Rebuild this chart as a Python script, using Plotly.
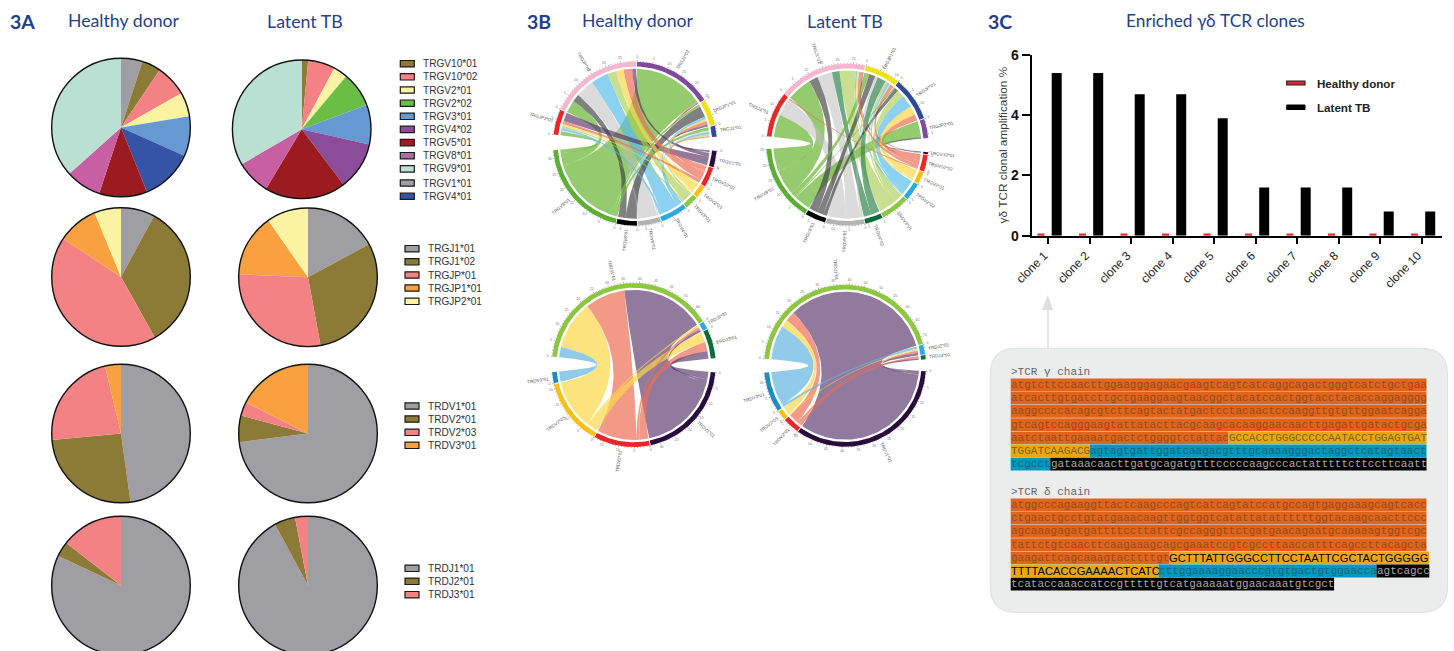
import math
import plotly.graph_objects as go

W, H = 1454, 657
NAVY = "#1F3F8A"
SANS = "Liberation Sans"
MONO = "Liberation Mono"
TITLE = "Lato"

# ---------- 3A pie data ----------
GRAY, OLIVE, PINK, YEL, GRN, BLU = "#9F9EA2", "#8B7B36", "#F48183", "#F9F3A2", "#6BBE45", "#6699D1"
PUR, DRED, MAG, MINT, DBLU, ORG = "#8B4C9A", "#9C1B20", "#C95FA3", "#B9E0D3", "#3554A5", "#F9A040"

V_HD_L = ["TRGV1*01", "TRGV10*01", "TRGV10*02", "TRGV2*01", "TRGV3*01", "TRGV4*01", "TRGV5*01", "TRGV8*01", "TRGV9*01"]
V_HD_V = [5.0, 4.4, 7.4, 5.6, 9.3, 12.2, 11.2, 8.3, 36.6]
V_HD_C = [GRAY, OLIVE, PINK, YEL, BLU, DBLU, DRED, MAG, MINT]
V_TB_L = ["TRGV10*01", "TRGV10*02", "TRGV2*01", "TRGV2*02", "TRGV3*01", "TRGV4*02", "TRGV5*01", "TRGV8*01", "TRGV9*01"]
V_TB_V = [1.5, 6.3, 3.3, 8.2, 9.2, 11.2, 18.9, 8.0, 33.4]
V_TB_C = [OLIVE, PINK, YEL, GRN, BLU, PUR, DRED, MAG, MINT]
J_L = ["TRGJ1*01", "TRGJ1*02", "TRGJP*01", "TRGJP1*01", "TRGJP2*01"]
J_C = [GRAY, OLIVE, PINK, ORG, YEL]
J_HD_V = [7.9, 34.0, 42.4, 9.5, 6.2]
J_TB_V = [17.1, 30.0, 28.6, 14.6, 9.7]
DV_L = ["TRDV1*01", "TRDV2*01", "TRDV2*03", "TRDV3*01"]
DV_C = [GRAY, OLIVE, PINK, ORG]
DV_HD_V = [47.8, 25.7, 22.8, 3.7]
DV_TB_V = [73.0, 6.2, 3.2, 17.6]
DJ_L = ["TRDJ1*01", "TRDJ2*01", "TRDJ3*01"]
DJ_C = [GRAY, OLIVE, PINK]
DJ_HD_V = [82.0, 3.5, 14.5]
DJ_TB_V = [92.1, 4.9, 3.0]

LEG1_L = ["TRGV10*01", "TRGV10*02", "TRGV2*01", "TRGV2*02", "TRGV3*01", "TRGV4*02", "TRGV5*01", "TRGV8*01", "TRGV9*01", "TRGV1*01", "TRGV4*01"]
LEG1_C = [OLIVE, PINK, YEL, GRN, BLU, PUR, DRED, MAG, MINT, GRAY, DBLU]

# ---------- 3B chord data (rows = V genes, columns = J genes) ----------
C_GRN = ("#5BB033", "rgba(112,186,62,.75)")
C_BLK = ("#000000", "rgba(60,60,60,.65)")
C_GRY = ("#B3B3B3", "rgba(190,190,190,.55)")
C_CYN = ("#29ABE2", "rgba(90,190,235,.7)")
C_CY2 = ("#1E8BC3", "rgba(100,180,225,.7)")
C_LIM = ("#8DC63F", "rgba(170,205,85,.65)")
C_ORG = ("#FDC010", "rgba(252,215,70,.7)")
C_RED = ("#E9262A", "rgba(238,110,85,.7)")
C_DPR = ("#2A0C3C", "rgba(80,45,100,.63)")
C_DGN = ("#0E6B3A", "rgba(60,140,90,.75)")
R_PNK, R_PUR, R_YEL, R_DBL, R_RED = "#F7B6CF", "#7D4A9E", "#EEE20A", "#2F4A9C", "#E9262A"

CH1_J = ["TRGJP2*01", "TRGJP*01", "TRGJ1*02", "TRGJP1*01", "TRGJ1*01"]
CH1_JC = [R_RED, R_PNK, R_PUR, R_YEL, R_DBL]
CH1_V = ["TRGV1*01", "TRGV10*02", "TRGV2*01", "TRGV3*01", "TRGV4*01", "TRGV5*01", "TRGV8*01", "TRGV9*01"]
CH1_VC = [C_DPR, C_RED, C_ORG, C_LIM, C_CYN, C_GRY, C_BLK, C_GRN]
CH1_M = [[7, 3, .5, 1.5, 0], [2.5, 7, 1, 3, 1], [1.5, 6, 0, 1, .5], [1.5, 7, 0, .5, 1],
         [2, 14, 0, 2, 2], [1, 15, 0, 0, 1], [0, 6, 0, 9, 0], [3, 10, 56.5, 2, 2.6]]

CH2_J = ["TRGJ1*01", "TRGJ1*02", "TRGJP1*01", "TRGJP*01", "TRGJP2*01"]
CH2_JC = [R_RED, R_PNK, R_YEL, R_DBL, R_PUR]
CH2_V = ["TRGV10*01", "TRGV10*02", "TRGV2*01", "TRGV2*02", "TRGV3*01", "TRGV4*02", "TRGV5*01", "TRGV8*01", "TRGV9*01"]
CH2_VC = [C_DPR, C_RED, C_ORG, C_CYN, C_LIM, C_DGN, C_GRY, C_BLK, C_GRN]
CH2_M = [[0, .5, 0, 0, 1], [1, 3, 3, 5, 0], [0, 1.5, .5, 7, 0], [0, 1, 2, 10, 0], [0, 13, 2, 6, 0],
         [0, 6, 7, 0, 0], [14, 12, 2, 0, 0], [0, 7, 5, 3, 0], [18, 20, 4, 1, 13]]

CH3_J = ["TRDJ1*01", "TRDJ2*01", "TRDJ3*01"]
CH3_JC = ["#8DC63F", "#29ABE2", "#0E6B3A"]
CH3_V = ["TRDV1*01", "TRDV2*01", "TRDV2*03", "TRDV3*01"]
CH3_VC = [C_DPR, C_RED, C_ORG, C_CY2]
CH3_M = [[65, 2, 6], [31, 2, 7], [38, 1.5, 8], [8, 0, 0]]
CH4_M = [[119, 2, 1], [8, 2, 2], [6, 1, 0], [27, 2, 0]]

# ---------- 3C data ----------
CLONES = ["clone 1", "clone 2", "clone 3", "clone 4", "clone 5", "clone 6", "clone 7", "clone 8", "clone 9", "clone 10"]
HD_AMP = [0, 0, 0, 0, 0, 0, 0, 0, 0, 0]
TB_AMP = [5.4, 5.4, 4.7, 4.7, 3.9, 1.6, 1.6, 1.6, 0.8, 0.8]

# each run: (text, background key)
GAMMA = [
    [("atgtcttccaacttggaagggagaacgaagtcagtcatcaggcagactgggtcatctgctgaa", "o")],
    [("atcacttgtgatcttgctgaaggaagtaacggctacatccactggtacctacaccaggagggg", "o")],
    [("aaggccccacagcgtcttcagtactatgactcctacaactccaaggttgtgttggaatcagga", "o")],
    [("gtcagtccagggaagtattatacttacgcaagcacaaggaacaacttgagattgatactgcga", "o")],
    [("aatctaattgaaaatgactctggggtctattac", "o"), ("GCCACCTGGGCCCCCAATACCTGGAGTGAT", "y")],
    [("TGGATCAAGACG", "y"), ("agtagtgattggatcaagacgtttgcaaaagggactaggctcatagtaact", "c")],
    [("tcgcct", "c"), ("gataaacaacttgatgcagatgtttcccccaagcccactatttttcttccttcaatt", "k")],
]
DELTA = [
    [("atggcccagaaggttactcaagcccagtcatcagtatccatgccagtgaggaaagcagtcacc", "o")],
    [("ctgaactgcctgtatgaaacaagttggtggtcatattatattttttggtacaagcaacttccc", "o")],
    [("agcaaagagatgattttccttattcgccagggttctgatgaacagaatgcaaaaagtggtcgc", "o")],
    [("tattctgtcaacttcaagaaagcagcgaaatccgtcgccttaaccatttcagccttacagcta", "o")],
    [("gaagattcagcaaagtacttttgt", "o"), ("GCTTTATTGGGCCTTCCTAATTCGCTACTGGGGG", "Y")],
    [("TTTTACACCGAAAACTCATC", "Y"), ("cttggaaaaggaacccgtgtgactgtggaacca", "c"), ("agtcagcc", "k")],
    [("tcataccaaaccatccgtttttgtcatgaaaaatggaacaaatgtcgct", "k")],
]

fig = go.Figure()
shapes, annos = [], []


def text(x, y, s, size, color, family=SANS, anchor="left", angle=0, yanchor="middle"):
    annos.append(dict(x=x, y=y, xref="x", yref="y", text=s, showarrow=False, xanchor=anchor, yanchor=yanchor,
                      textangle=angle, borderpad=0, borderwidth=0,
                      font=dict(size=size, color=color, family=family)))


def rect(x0, y0, x1, y1, fill, line="rgba(0,0,0,0)", lw=0):
    shapes.append(dict(type="rect", xref="x", yref="y", x0=x0, y0=y0, x1=x1, y1=y1, fillcolor=fill,
                       line=dict(color=line, width=lw), layer="below"))


# ---------- pies ----------
def pie(cx, cy, r, labels, values, colors):
    dom = dict(x=[(cx - r) / W, (cx + r) / W], y=[1 - (cy + r) / H, 1 - (cy - r) / H])
    fig.add_trace(go.Pie(labels=labels, values=values, sort=False, direction="clockwise", rotation=0,
                         domain=dom, textinfo="none", hoverinfo="skip", showlegend=False,
                         marker=dict(colors=colors, line=dict(width=0))))
    fig.add_trace(go.Pie(labels=["outline"], values=[1], sort=False, domain=dom, textinfo="none",
                         hoverinfo="skip", showlegend=False,
                         marker=dict(colors=["rgba(0,0,0,0)"], line=dict(color="#111", width=1.4))))


PIE_R = 69.3
pie(121, 127.5, PIE_R, V_HD_L, V_HD_V, V_HD_C)
pie(301.7, 129.3, PIE_R, V_TB_L, V_TB_V, V_TB_C)
pie(121, 277, PIE_R, J_L, J_HD_V, J_C)
pie(308, 277.3, PIE_R, J_L, J_TB_V, J_C)
pie(121, 433.5, PIE_R, DV_L, DV_HD_V, DV_C)
pie(308, 433.5, PIE_R, DV_L, DV_TB_V, DV_C)
pie(121, 585.5, PIE_R, DJ_L, DJ_HD_V, DJ_C)
pie(308, 585.5, PIE_R, DJ_L, DJ_TB_V, DJ_C)


def legend(x, ys, labels, colors):
    for y, l, c in zip(ys, labels, colors):
        rect(x, y - 3.2, x + 14, y + 3.2, c, "#1a1a1a", 1.2)
        text(x + 23, y, l, 10.1, "#333333")


legend(400.3, [63.7, 76.8, 90, 103.2, 116.3, 129.4, 142.6, 155.7, 168.9], LEG1_L[:9], LEG1_C[:9])
legend(400.3, [183, 196.2], LEG1_L[9:], LEG1_C[9:])
legend(405, [248.7, 261.8, 275, 288, 301.3], J_L, J_C)
legend(405, [406, 419, 432.3, 445.3], DV_L, DV_C)
legend(405, [568.3, 581.3, 594.7], DJ_L, DJ_C)


# ---------- chords ----------
def pol(cx, cy, r, deg):
    a = math.radians(deg)
    return cx + r * math.sin(a), cy - r * math.cos(a)


def arc(cx, cy, r, d0, d1):
    n = max(2, int(abs(d1 - d0) / 1.5) + 2)
    pts = [pol(cx, cy, r, d0 + (d1 - d0) * i / (n - 1)) for i in range(n)]
    return pts


def bez(p0, p1, c):
    out = []
    for i in range(1, 30):
        t = i / 30
        out.append(((1 - t) ** 2 * p0[0] + 2 * t * (1 - t) * c[0] + t * t * p1[0],
                    (1 - t) ** 2 * p0[1] + 2 * t * (1 - t) * c[1] + t * t * p1[1]))
    return out


def poly(pts, fill):
    xs = [p[0] for p in pts] + [pts[0][0]]
    ys = [p[1] for p in pts] + [pts[0][1]]
    fig.add_trace(go.Scatter(x=xs, y=ys, mode="lines", fill="toself", fillcolor=fill, line=dict(width=0),
                             hoverinfo="skip", showlegend=False))


def chord(cx, cy, R, jn, jc, vn, vc, M, start, gap1, gap2, small=0.6):
    rr = R - 4.7
    rib = R - 7
    jt = [sum(row[j] for row in M) for j in range(len(jn))]
    vt = [sum(row) for row in M]
    total = sum(jt) + sum(vt)
    k = (360 - gap1 - gap2 - small * (len(jn) + len(vn) - 2)) / total
    jpos, vpos = [], []
    a = start
    for t in jt:
        jpos.append((a, a + t * k))
        a += t * k + small
    a += gap1 - small
    for t in vt:
        vpos.append((a, a + t * k))
        a += t * k + small
    # ribbons: inside a sector the partners run in reverse order going clockwise
    jcur = [p[0] for p in jpos]
    spans = {}
    for j in range(len(jn)):
        for v in reversed(range(len(vn))):
            w = M[v][j] * k
            if w > 0:
                spans[(v, j)] = [(jcur[j], jcur[j] + w)]
                jcur[j] += w
    vcur = [p[0] for p in vpos]
    for v in range(len(vn)):
        for j in reversed(range(len(jn))):
            w = M[v][j] * k
            if w > 0:
                spans[(v, j)].append((vcur[v], vcur[v] + w))
                vcur[v] += w
    # big ribbons first so that thin ones stay visible
    for (v, j), sp in sorted(spans.items(), key=lambda kv: -(kv[1][0][1] - kv[1][0][0])):
        (a0, a1), (b0, b1) = sp
        c = (cx, cy)
        A = arc(cx, cy, rib, a0, a1)
        B = arc(cx, cy, rib, b0, b1)
        poly(A + bez(A[-1], B[0], c) + B + bez(B[-1], A[0], c), vc[v][1])
    # rings, ticks, labels
    sectors = [(p, n, col) for p, n, col in zip(jpos, jn, jc)] + [(p, n, col[0]) for p, n, col in zip(vpos, vn, vc)]
    for (d0, d1), name, col in sectors:
        poly(arc(cx, cy, R, d0, d1) + arc(cx, cy, rr, d1, d0), col)
        tx, ty, lx, ly, lt = [], [], [], [], []
        i = 0
        d = d0
        while d <= d1 + 1e-6:
            major = i % 5 == 0
            p0, p1 = pol(cx, cy, R, d), pol(cx, cy, R + (1.6 if major else 0.9), d)
            tx += [p0[0], p1[0], None]
            ty += [p0[1], p1[1], None]
            if major and d1 - d0 > 4:
                q = pol(cx, cy, R + 4.5, d)
                lx.append(q[0]); ly.append(q[1]); lt.append(str(i))
            i += 1
            d += 2.2
        fig.add_trace(go.Scatter(x=tx, y=ty, mode="lines", line=dict(color="#666", width=0.5),
                                 hoverinfo="skip", showlegend=False))
        fig.add_trace(go.Scatter(x=lx, y=ly, mode="text", text=lt, textposition="middle center",
                                 textfont=dict(size=3.5, color="#777", family=SANS),
                                 hoverinfo="skip", showlegend=False))
        mid = (d0 + d1) / 2 % 360
        q = pol(cx, cy, R + 15, mid)
        ang = mid - 90 if mid < 180 else mid - 270
        text(q[0], q[1], name, 4.6, "#555", anchor="center", angle=ang)


chord(635, 143.7, 82, CH1_J, CH1_JC, CH1_V, CH1_VC, CH1_M, 276.5, 10, 11)
chord(847.4, 144.7, 81, CH2_J, CH2_JC, CH2_V, CH2_VC, CH2_M, 276, 10, 9)
chord(633.7, 365, 82, CH3_J, CH3_JC, CH3_V, CH3_VC, CH3_M, 276, 10, 11)
chord(845, 365.7, 81, CH3_J, CH3_JC, CH3_V, CH3_VC, CH4_M, 275, 8.5, 10)

# ---------- 3C bars ----------
XL, XR, YT, YB = 1031.7, 1442, 55, 235.7
PITCH = 41.5
fig.add_trace(go.Bar(x=CLONES, y=TB_AMP, xaxis="x2", yaxis="y2", name="Latent TB", width=10 / PITCH,
                     offset=3.4 / PITCH, marker=dict(color="#000000", line=dict(width=0)),
                     hoverinfo="skip", showlegend=False))
fig.add_trace(go.Bar(x=CLONES, y=HD_AMP, xaxis="x2", yaxis="y2", name="Healthy donor", width=7 / PITCH,
                     offset=-10.8 / PITCH, cliponaxis=False,
                     marker=dict(color="#EE2A2E", line=dict(color="#EE2A2E", width=4.5)),
                     hoverinfo="skip", showlegend=False))

rect(1286.7, 81, 1305, 85, "#E0262A", "#222", 1.1)
rect(1286.7, 105, 1305, 109.5, "#000", "#000", 1)
text(1316.7, 83.7, "<b>Healthy donor</b>", 11.6, "#222")
text(1316.7, 107.7, "<b>Latent TB</b>", 11.6, "#222")
text(1002, 145.5, "γδ TCR clonal amplification %", 11.8, "#3a3a3a", anchor="center", angle=-90)

# ---------- arrow ----------
shapes.append(dict(type="line", xref="x", yref="y", x0=1048, y0=309, x1=1048, y1=348,
                   line=dict(color="#D5D9D9", width=1.2), layer="below"))
shapes.append(dict(type="path", xref="x", yref="y", path="M 1042.2 310 L 1047.7 295 L 1053.2 310 Z",
                   fillcolor="#DDE0E0", line=dict(width=0), layer="below"))

# ---------- sequence box ----------
BX0, BY0, BX1, BY1, RAD = 990.3, 348.3, 1447.5, 612.5, 26
shapes.append(dict(type="path", xref="x", yref="y", layer="below", fillcolor="#EBEDEC",
                   line=dict(color="#DFE1E1", width=1),
                   path=f"M {BX0 + RAD} {BY0} L {BX1 - RAD} {BY0} Q {BX1} {BY0} {BX1} {BY0 + RAD} "
                        f"L {BX1} {BY1 - RAD} Q {BX1} {BY1} {BX1 - RAD} {BY1} L {BX0 + RAD} {BY1} "
                        f"Q {BX0} {BY1} {BX0} {BY1 - RAD} L {BX0} {BY0 + RAD} Q {BX0} {BY0} {BX0 + RAD} {BY0} Z"))

CW = 6.6
BG = {"o": "#E0651C", "y": "#E8A80C", "Y": "#E8A80C", "c": "#0099BE", "k": "#000000"}
FG = {"o": "#9A4A14", "y": "#7E6208", "Y": "#000000", "c": "#14667F", "k": "#A8A8A8"}


def seq(rows, y0):
    for r, row in enumerate(rows):
        x = 1010.7
        y = y0 + r * 13.2
        for s, key in row:
            wid = len(s) * (7.65 if key == "Y" else CW)
            if key == "Y" and s.startswith("TTTT"):
                wid = len(s) * 7.4
            rect(x, y - 6.4, x + wid, y + 6.4, BG[key])
            if key == "Y":
                text(x + .3, y, s, 11.2, FG[key], SANS)
            else:
                text(x + .3, y, s, 11, FG[key], MONO)
            x += wid


text(1011, 371.7, "&gt;TCR γ chain", 11, "#666", MONO)
seq(GAMMA, 385)
text(1011, 491.7, "&gt;TCR δ chain", 11, "#666", MONO)
seq(DELTA, 505)

# ---------- headings ----------
for x, s in [(10, "3A"), (527, "3B"), (988, "3C")]:
    text(x, 21.5, f"<b>{s}</b>", 19.5, NAVY, TITLE)
for x, s, sz in [(68, "Healthy donor", 17.7), (267, "Latent TB", 17.8), (582, "Healthy donor", 17.7),
                 (807, "Latent TB", 17.8), (1126, "Enriched γδ TCR clones", 17.3)]:
    text(x, 20.5, s, sz, NAVY, TITLE)

fig.update_layout(
    width=W, height=H, margin=dict(l=0, r=0, t=0, b=0, autoexpand=False), paper_bgcolor="white",
    plot_bgcolor="rgba(0,0,0,0)",
    showlegend=False, barmode="overlay", shapes=shapes, annotations=annos,
    xaxis=dict(domain=[0, 1], range=[0, W], visible=False, fixedrange=True),
    yaxis=dict(domain=[0, 1], range=[H, 0], visible=False, fixedrange=True),
    xaxis2=dict(domain=[XL / W, XR / W], range=[-(1048.3 - XL) / PITCH, (XR - 1048.3) / PITCH], type="category",
                categoryorder="array", categoryarray=CLONES, anchor="y2", showgrid=False, zeroline=False,
                showline=True, linecolor="#000", linewidth=2.2, ticks="outside", ticklen=6, tickwidth=2,
                tickcolor="#000", tickangle=-45, layer="below traces", ticklabelshift=-4,
                tickfont=dict(size=12, color="#222", family=SANS)),
    yaxis2=dict(domain=[1 - YB / H, 1 - YT / H], range=[0, 6], anchor="x2", showgrid=False, zeroline=False,
                showline=True, linecolor="#000", linewidth=2.2, ticks="outside", ticklen=8, tickwidth=2,
                tickcolor="#000", tickvals=[0, 2, 4, 6], layer="below traces",
                tickfont=dict(size=14, color="#111", family=SANS, weight=700)),
)

fig.write_html("out.html", config=dict(displayModeBar=False),
               post_script="document.body.style.margin='0';document.body.style.overflow='hidden';"
                           "document.documentElement.style.overflow='hidden';")
